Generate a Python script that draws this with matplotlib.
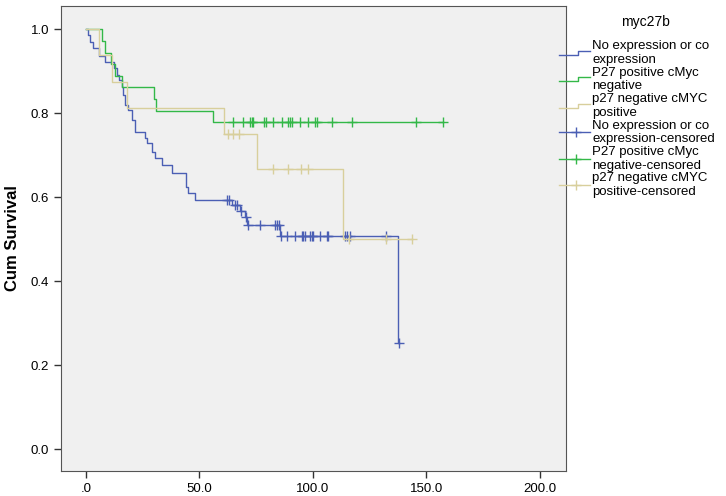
import numpy as np
import matplotlib
matplotlib.use("Agg")
import matplotlib.pyplot as plt
from matplotlib.legend_handler import HandlerBase
from matplotlib.lines import Line2D

plt.rcParams["font.family"] = ["Liberation Sans", "DejaVu Sans"]

# ── Data ──────────────────────────────────────────────────────────────────────
groups = ["No expression or co\nexpression",
          "P27 positive cMyc\nnegative",
          "p27 negative cMYC\npositive"]
colors = ["#4b5fb4", "#33b848", "#d8cf9c"]

blue_times = [0.7, 1.8, 3.2, 5.9, 8.4, 12.3, 13.8, 14.7, 15.7, 16.5, 17.2, 18.6,
              20.3, 21.6, 25.9, 26.9, 29.1, 30.4, 33.5, 37.9, 44.0, 45.0, 48.0,
              64.3, 67.8, 70.0, 71.0, 85.5, 137.3]
blue_surv = [0.986, 0.970, 0.955, 0.936, 0.922, 0.907, 0.890, 0.878, 0.862, 0.843,
             0.819, 0.807, 0.783, 0.755, 0.740, 0.729, 0.707, 0.693, 0.676, 0.657,
             0.624, 0.610, 0.593, 0.580, 0.568, 0.552, 0.533, 0.507, 0.253]
blue_cens = [62.0, 63.1, 65.5, 66.5, 68.5, 70.5, 71.2, 76.7, 83.5, 84.3, 85.1,
             86.0, 88.4, 92.1, 95.0, 95.7, 96.5, 98.7, 99.4, 100.1, 103.1, 106.0,
             106.7, 114.1, 114.8, 116.3, 132.4, 138.0]

green_times = [6.9, 8.4, 11.0, 13.0, 16.0, 30.0, 31.0, 56.0]
green_surv = [0.972, 0.944, 0.917, 0.889, 0.861, 0.833, 0.806, 0.778]
green_cens = [64.9, 69.0, 72.2, 73.0, 73.7, 78.5, 79.3, 82.2, 86.2, 89.1, 89.9,
              90.9, 94.3, 97.9, 100.9, 101.6, 108.2, 117.3, 145.4, 157.4]

tan_times = [5.8, 11.4, 17.9, 60.8, 75.2, 113.3]
tan_surv = [0.9375, 0.875, 0.8125, 0.75, 0.667, 0.5]
tan_cens = [62.7, 64.9, 67.5, 82.2, 89.1, 94.7, 97.9, 116.0, 132.4, 143.5]

x_ticks = [0, 50, 100, 150, 200]
x_labels = [".0", "50.0", "100.0", "150.0", "200.0"]
y_ticks = [0.0, 0.2, 0.4, 0.6, 0.8, 1.0]


# ── Helpers ───────────────────────────────────────────────────────────────────

def surv_at(times, surv, t):
    idx = np.searchsorted(times, t, side="right") - 1
    return 1.0 if idx < 0 else surv[idx]


class StepHandler(HandlerBase):
    """SPSS-style little step glyph for the legend."""
    def __init__(self, censored=False):
        super().__init__()
        self.censored = censored

    def create_artists(self, legend, orig, xd, yd, w, h, fs, trans):
        c = orig.get_color()
        if self.censored:
            ln = Line2D([xd, xd + w], [yd + h * 0.5] * 2, color=c, lw=1,
                        transform=trans)
            mk = Line2D([xd + w * 0.55], [yd + h * 0.5], marker="+", ms=7,
                        mew=1, color=c, lw=0, transform=trans)
            return [ln, mk]
        xs = [xd, xd + w * 0.6, xd + w * 0.6, xd + w]
        ys = [yd + h * 0.3, yd + h * 0.3, yd + h * 0.75, yd + h * 0.75]
        return [Line2D(xs, ys, color=c, lw=1, transform=trans)]


# ── Figure ────────────────────────────────────────────────────────────────────
fig = plt.figure(figsize=(7.26, 4.96), dpi=100)
ax = fig.add_axes([0.084, 0.0504, 0.6956, 0.9376])
ax.set_facecolor("#f0f0f0")

series = [(blue_times, blue_surv, blue_cens),
          (green_times, green_surv, green_cens),
          (tan_times, tan_surv, tan_cens)]

step_handles, cens_handles = [], []
for (t, s, cz), col in zip(series, colors):
    tt = [0.0] + list(t) + [max(max(t), max(cz))]
    ss = [1.0] + list(s) + [s[-1]]
    h, = ax.step(tt, ss, where="post", color=col, lw=1)
    cy = [surv_at(t, s, c) for c in cz]
    m, = ax.plot(cz, cy, "+", color=col, ms=7, mew=1)
    step_handles.append(h)
    cens_handles.append(m)

ax.set_xlim(-11, 211.5)
ax.set_ylim(-0.052, 1.055)
ax.set_xticks(x_ticks)
ax.set_xticklabels(x_labels)
ax.set_yticks(y_ticks)
ax.set_yticklabels([f"{v:.1f}" for v in y_ticks])
ax.tick_params(direction="out", length=5, width=1, labelsize=9.5,
               color="#333333")
for sp in ax.spines.values():
    sp.set_color("#555555")
ax.set_ylabel("Cum Survival", fontsize=12, fontweight="bold", labelpad=8)

# legend title drawn separately (SPSS puts it well above the entries)
fig.text(0.889, 1 - 22 / 496, "myc27b", ha="center", va="center", fontsize=10)

labels = groups + [g + "-censored" for g in groups]
handler_map = {h: StepHandler(False) for h in step_handles}
handler_map.update({h: StepHandler(True) for h in cens_handles})
leg = fig.legend(step_handles + cens_handles, labels,
                 loc="upper left", bbox_to_anchor=(0.7704, 0.919),
                 frameon=False, fontsize=9.5,
                 handlelength=2.3, handletextpad=0.2, labelspacing=0.05,
                 borderaxespad=0, borderpad=0,
                 handler_map=handler_map)

fig.savefig("out.png", dpi=100)
